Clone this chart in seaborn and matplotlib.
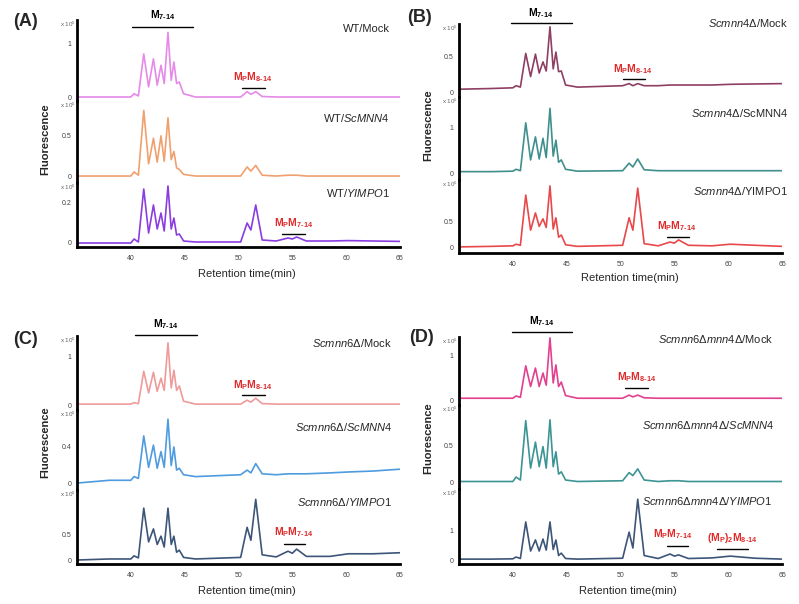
import matplotlib
matplotlib.use("Agg")
import matplotlib.pyplot as plt
import seaborn as sns

sns.set_style("white")
plt.rcParams["font.family"] = ["Liberation Sans", "DejaVu Sans"]
plt.rcParams["mathtext.fontset"] = "custom"
plt.rcParams["mathtext.rm"] = "Liberation Sans"
plt.rcParams["mathtext.it"] = "Liberation Sans:italic"
plt.rcParams["mathtext.bf"] = "Liberation Sans:bold"

# retention time points (min), shared by every trace
TIME = [35.0, 38.0, 40.0, 40.3, 40.7, 41.2, 41.65, 42.1, 42.45, 42.8,
        43.1, 43.45, 43.75, 44.0, 44.25, 44.5, 44.9, 46.0, 50.2, 50.8,
        51.15, 51.6, 52.2, 53.5, 54.6, 55.0, 55.4, 56.3, 58.5, 60.2,
        62.5, 65.0]

# fluorescence (in its own "x 10^5" units)
A_MOCK = [0, 0, 0, 0.06, 0.02, 0.80, 0.19, 0.71, 0.22, 0.59,
          0.25, 1.20, 0.31, 0.65, 0.25, 0.28, 0.06, 0.0, 0.0, 0.10,
          0.05, 0.10, 0.01, 0, 0, 0, 0, 0, 0, 0, 0, 0]
A_MNN4 = [0, 0, 0, 0.05, 0.01, 0.80, 0.15, 0.46, 0.17, 0.49,
          0.18, 0.71, 0.20, 0.30, 0.10, 0.08, 0.02, 0.0, 0.0, 0.11,
          0.06, 0.13, 0.01, 0.0, 0.01, 0.01, 0.01, 0.0, 0.0, 0.0, 0.0, 0.0]
A_YIMPO1 = [0, 0, 0, 0.02, 0.005, 0.27, 0.05, 0.19, 0.07, 0.15,
            0.06, 0.285, 0.07, 0.125, 0.04, 0.045, 0.01, 0.005, 0.005, 0.10,
            0.065, 0.19, 0.015, 0.01, 0.025, 0.02, 0.03, 0.01, 0.01, 0.012,
            0.01, 0.008]

B_MOCK = [0.04, 0.05, 0.06, 0.09, 0.07, 0.55, 0.22, 0.54, 0.27, 0.43,
          0.30, 0.93, 0.33, 0.57, 0.29, 0.30, 0.10, 0.07, 0.09, 0.12,
          0.09, 0.12, 0.09, 0.09, 0.10, 0.10, 0.10, 0.10, 0.10, 0.11,
          0.115, 0.12]
B_MNN4 = [0.05, 0.05, 0.06, 0.10, 0.07, 1.09, 0.30, 0.79, 0.32, 0.76,
          0.35, 1.40, 0.38, 0.72, 0.25, 0.30, 0.10, 0.06, 0.07, 0.23,
          0.15, 0.32, 0.09, 0.07, 0.07, 0.07, 0.07, 0.07, 0.07, 0.07,
          0.07, 0.07]
B_YIMPO1 = [0.02, 0.03, 0.04, 0.07, 0.05, 0.98, 0.33, 0.65, 0.40, 0.54,
            0.38, 1.15, 0.35, 0.56, 0.20, 0.24, 0.06, 0.03, 0.05, 0.56,
            0.33, 1.11, 0.08, 0.04, 0.11, 0.09, 0.15, 0.05, 0.04, 0.07,
            0.05, 0.03]

C_MOCK = [0.02, 0.02, 0.02, 0.05, 0.03, 0.69, 0.25, 0.67, 0.28, 0.55,
          0.30, 1.27, 0.35, 0.71, 0.30, 0.39, 0.08, 0.02, 0.02, 0.10,
          0.06, 0.14, 0.03, 0.02, 0.02, 0.02, 0.02, 0.02, 0.02, 0.02,
          0.02, 0.02]
C_MNN4 = [0.01, 0.04, 0.04, 0.08, 0.06, 0.52, 0.18, 0.42, 0.17, 0.35,
          0.18, 0.70, 0.20, 0.40, 0.15, 0.17, 0.10, 0.08, 0.10, 0.15,
          0.12, 0.22, 0.11, 0.10, 0.11, 0.11, 0.11, 0.11, 0.12, 0.13,
          0.14, 0.16]
C_YIMPO1 = [0.0, 0.02, 0.02, 0.08, 0.04, 1.00, 0.35, 0.60, 0.30, 0.46,
            0.25, 1.00, 0.30, 0.46, 0.15, 0.19, 0.05, 0.02, 0.05, 0.63,
            0.38, 1.17, 0.10, 0.06, 0.17, 0.13, 0.21, 0.07, 0.07, 0.12,
            0.12, 0.14]

D_MOCK = [0.04, 0.04, 0.04, 0.09, 0.06, 0.76, 0.30, 0.71, 0.30, 0.60,
          0.33, 1.38, 0.38, 0.78, 0.30, 0.40, 0.10, 0.04, 0.04, 0.11,
          0.07, 0.11, 0.05, 0.04, 0.04, 0.04, 0.04, 0.04, 0.04, 0.04,
          0.04, 0.04]
D_MNN4 = [0.02, 0.02, 0.02, 0.08, 0.04, 0.84, 0.20, 0.55, 0.22, 0.49,
          0.20, 0.85, 0.22, 0.42, 0.12, 0.15, 0.04, 0.02, 0.03, 0.14,
          0.10, 0.19, 0.04, 0.02, 0.03, 0.03, 0.03, 0.02, 0.02, 0.02,
          0.02, 0.02]
D_YIMPO1 = [0.03, 0.03, 0.04, 0.10, 0.05, 1.27, 0.30, 0.67, 0.30, 0.70,
            0.33, 1.27, 0.35, 0.67, 0.15, 0.23, 0.05, 0.03, 0.06, 0.93,
            0.40, 2.03, 0.15, 0.05, 0.20, 0.13, 0.17, 0.05, 0.07, 0.13,
            0.06, 0.03]

X_TICKS = [40, 45, 50, 55, 60, 65]

A_LABELS = ["WT/Mock", r"WT/$\mathit{ScMNN4}$", r"WT/$\mathit{YIMPO1}$"]
B_LABELS = [r"$\mathit{Scmnn4}$Δ/Mock", r"$\mathit{Scmnn4}$Δ/ScMNN4",
            r"$\mathit{Scmnn4}$Δ/YIMPO1"]
C_LABELS = [r"$\mathit{Scmnn6}$Δ/Mock", r"$\mathit{Scmnn6}$Δ/$\mathit{ScMNN4}$",
            r"$\mathit{Scmnn6}$Δ/$\mathit{YIMPO1}$"]
D_LABELS = [r"$\mathit{Scmnn6}$Δ$\mathit{mnn4}$Δ/Mock",
            r"$\mathit{Scmnn6}$Δ$\mathit{mnn4}$Δ/$\mathit{ScMNN4}$",
            r"$\mathit{Scmnn6}$Δ$\mathit{mnn4}$Δ/$\mathit{YIMPO1}$"]

# U+2010 hyphen keeps mathtext from spacing it like a minus sign
M714 = r"$\mathbf{M_{7‐14}}$"
MPM814 = r"$\mathbf{M_PM_{8‐14}}$"
MPM714 = r"$\mathbf{M_PM_{7‐14}}$"
MP2M814 = r"$\mathbf{(M_P)_2M_{8‐14}}$"

RED = "#e02a2a"
W, H = 799, 604

# panel layout in pixels: name, x-left, x-right, row tops, row bottoms,
# traces (values, colour, ylim, yticks), label positions, annotations
panels = [
    dict(tag="(A)", tag_xy=(25, 22), x0=77, x1=400,
         tops=[20, 101, 183], bots=[101, 183, 247],
         traces=[(A_MOCK, "#e58ae8", (-0.074, 1.43), [0, 1]),
                 (A_MNN4, "#f0a06e", (-0.085, 0.915), [0, 0.5]),
                 (A_YIMPO1, "#8a3de0", (-0.02, 0.30), [0, 0.2])],
         labels=A_LABELS, label_xy=[(390, 29), (390, 118), (390, 193)],
         ylab_xy=(45, 139), xlab_xy=(247, 274),
         notes=[(0, M714, "black", 40.1, 45.8, 1.30, 43.0, 1.52),
                (0, MPM814, RED, 50.3, 52.5, 0.17, 51.35, 0.37),
                (2, MPM714, RED, 54.0, 56.2, 0.045, 55.1, 0.10)]),
    dict(tag="(B)", tag_xy=(420, 17), x0=459, x1=782,
         tops=[24, 97, 180], bots=[97, 180, 253],
         traces=[(B_MOCK, "#8e3f62", (-0.071, 0.97), [0, 0.5]),
                 (B_MNN4, "#3f8f8c", (-0.128, 1.64), [0, 1]),
                 (B_YIMPO1, "#e8484a", (-0.093, 1.26), [0, 0.5])],
         labels=B_LABELS, label_xy=[(788, 23), (788, 113), (788, 191)],
         ylab_xy=(428, 125), xlab_xy=(630, 278),
         notes=[(0, M714, "black", 39.8, 45.5, 0.99, 42.6, 1.13),
                (0, MPM814, RED, 50.2, 52.3, 0.19, 51.1, 0.33),
                (2, MPM714, RED, 54.3, 56.4, 0.20, 55.2, 0.41)]),
    dict(tag="(C)", tag_xy=(25, 339), x0=77, x1=400,
         tops=[336, 410, 490], bots=[410, 490, 564],
         traces=[(C_MOCK, "#f09a9a", (-0.10, 1.41), [0, 1]),
                 (C_MNN4, "#4e9be0", (-0.065, 0.80), [0, 0.4]),
                 (C_YIMPO1, "#3d5578", (-0.077, 1.35), [0, 0.5])],
         labels=C_LABELS, label_xy=[(392, 343), (392, 427), (392, 502)],
         ylab_xy=(45, 442), xlab_xy=(247, 591),
         notes=[(0, M714, "black", 40.4, 46.1, 1.43, 43.2, 1.65),
                (0, MPM814, RED, 50.3, 52.5, 0.20, 51.35, 0.41),
                (2, MPM714, RED, 54.2, 56.2, 0.31, 55.1, 0.54)]),
    dict(tag="(D)", tag_xy=(422, 337), x0=459, x1=782,
         tops=[337, 405, 489], bots=[405, 489, 564],
         traces=[(D_MOCK, "#e2408e", (-0.11, 1.40), [0, 1]),
                 (D_MNN4, "#3d9494", (-0.081, 1.05), [0, 0.5]),
                 (D_YIMPO1, "#3d5578", (-0.133, 2.37), [0, 1])],
         labels=D_LABELS, label_xy=[(773, 339), (775, 425), (772, 501)],
         ylab_xy=(428, 438), xlab_xy=(628, 591),
         notes=[(0, M714, "black", 39.9, 45.5, 1.51, 42.7, 1.76),
                (0, MPM814, RED, 50.4, 52.6, 0.27, 51.5, 0.51),
                (2, MPM714, RED, 54.3, 56.3, 0.47, 54.8, 0.87),
                (2, MP2M814, RED, 59.0, 61.8, 0.37, 60.4, 0.73)]),
]

fig = plt.figure(figsize=(7.99, 6.04), dpi=100)


def fx(x):
    return x / W


def fy(y):
    return 1 - y / H


def fmt(v):
    return "0" if v == 0 else f"{v:g}"


for p in panels:
    axes = []
    for i, (vals, color, ylim, yticks) in enumerate(p["traces"]):
        top, bot = p["tops"][i], p["bots"][i]
        ax = fig.add_axes([fx(p["x0"]), fy(bot), fx(p["x1"] - p["x0"]),
                           (bot - top) / H])
        ax.patch.set_alpha(0)
        sns.lineplot(x=TIME, y=vals, ax=ax, color=color, linewidth=1.2)
        ax.set_xlim(35, 65)
        ax.set_ylim(*ylim)
        ax.set_yticks(yticks)
        ax.set_yticklabels([fmt(v) for v in yticks])
        ax.set_xlabel("")
        ax.set_ylabel("")
        for s in ["top", "right"]:
            ax.spines[s].set_visible(False)
        ax.spines["left"].set_linewidth(2)
        ax.spines["left"].set_color("black")
        ax.tick_params(axis="y", length=2.5, width=1.5, labelsize=5,
                       pad=1.5, labelcolor="#444444", color="black")
        last = i == len(p["traces"]) - 1
        if last:
            ax.spines["bottom"].set_linewidth(2)
            ax.spines["bottom"].set_color("black")
            ax.set_xticks(X_TICKS)
            ax.set_xticklabels([str(t) for t in X_TICKS])
            ax.tick_params(axis="x", length=2.5, width=1.5, labelsize=5,
                           pad=3, labelcolor="#444444", color="black")
        else:
            ax.spines["bottom"].set_visible(False)
            ax.set_xticks([])
        ax.text(-0.004, 1.0, r"x 10$^5$", transform=ax.transAxes,
                ha="right", va="top", fontsize=4.5, color="#666666")
        lx, ly = p["label_xy"][i]
        fig.text(fx(lx), fy(ly), p["labels"][i], ha="right", va="center",
                 fontsize=8)
        axes.append(ax)

    for row, txt, color, xa, xb, yl, xt, yt in p["notes"]:
        ax = axes[row]
        ax.plot([xa, xb], [yl, yl], color="black", linewidth=1,
                clip_on=False)
        ax.text(xt, yt, txt, color=color, ha="center", va="center",
                fontsize=7.5, clip_on=False)

    fig.text(fx(p["tag_xy"][0]), fy(p["tag_xy"][1]), p["tag"],
             fontsize=13, fontweight="bold", ha="center", va="center")
    fig.text(fx(p["ylab_xy"][0]), fy(p["ylab_xy"][1]), "Fluorescence",
             rotation=90, fontsize=8, fontweight="bold",
             ha="center", va="center")
    fig.text(fx(p["xlab_xy"][0]), fy(p["xlab_xy"][1]),
             "Retention time(min)", fontsize=8, ha="center", va="center")

fig.savefig("out.png", dpi=100)
